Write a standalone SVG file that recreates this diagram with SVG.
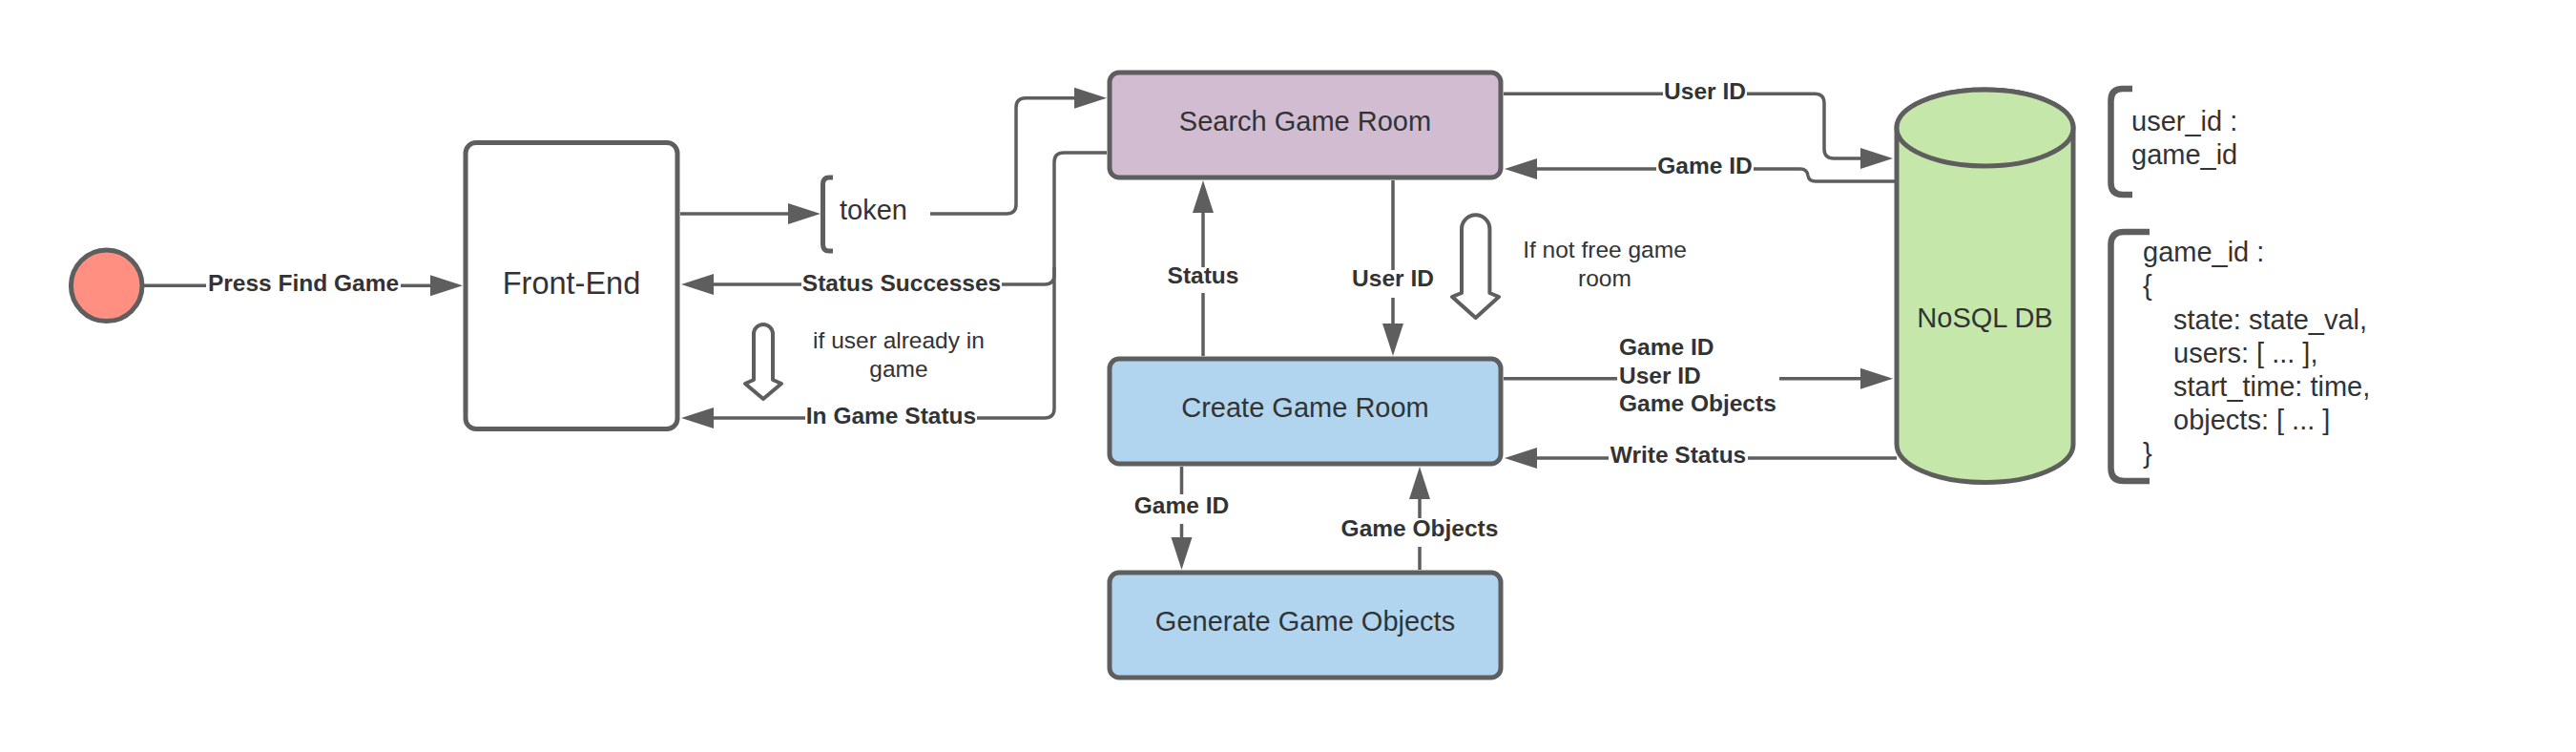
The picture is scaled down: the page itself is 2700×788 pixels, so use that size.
<svg xmlns="http://www.w3.org/2000/svg" width="2700" height="788" viewBox="0 0 2700 788">
<style>
.box{stroke:#5e5e5e;stroke-width:5;}
.ln{fill:none;stroke:#5e5e5e;stroke-width:3.5;}
.arr{marker-end:url(#ah);}
.brk{fill:none;stroke:#5e5e5e;stroke-width:6.5;}
.hol{fill:none;stroke:#5e5e5e;stroke-width:4;stroke-linejoin:round;}
.t{font-family:"Liberation Sans",Arial,sans-serif;fill:#333333;}
.big{font-size:29px;}
.fe{font-size:32.5px;}
.lbl{font-size:24.5px;font-weight:bold;}
.note{font-size:24.5px;}
.mid{text-anchor:middle;}
</style>
<defs>
<marker id="ah" markerUnits="userSpaceOnUse" markerWidth="36" markerHeight="24" viewBox="0 0 36 24" refX="1" refY="12" orient="auto">
<path d="M0,1 L34,12 L0,23 Z" fill="#5e5e5e"/>
</marker>
</defs>
<rect width="2700" height="788" fill="#ffffff"/>

<g id="connectors">
<path class="ln" d="M151,299.3 H216"/>
<path class="ln arr" d="M420,299.3 H452"/>
<path class="ln arr" d="M713,224 H827"/>
<path class="ln arr" d="M975,224 H1055 Q1065,224 1065,214 V112.7 Q1065,102.7 1075,102.7 H1127"/>
<path class="ln" d="M1160,160 H1115 Q1105,160 1105,170 V288 Q1105,298 1095,298 H1050"/>
<path class="ln arr" d="M840,298 H747"/>
<path class="ln" d="M1105,280 V428 Q1105,438 1095,438 H1024"/>
<path class="ln arr" d="M844,438 H747"/>
<path class="ln" d="M1261,373 V307"/>
<path class="ln arr" d="M1261,280 V222"/>
<path class="ln" d="M1460,189 V283"/>
<path class="ln arr" d="M1460,312 V340"/>
<path class="ln" d="M1238.5,489 V518"/>
<path class="ln arr" d="M1238.5,549 V564"/>
<path class="ln" d="M1488,597 V573"/>
<path class="ln arr" d="M1488,543 V522"/>
<path class="ln" d="M1576,98.3 H1743"/>
<path class="ln arr" d="M1831,98.3 H1902 Q1912,98.3 1912,108.3 V156 Q1912,166 1922,166 H1951"/>
<path class="ln" d="M1986,190 H1903 Q1896,190 1895,184 Q1894,177 1887,177 H1838"/>
<path class="ln arr" d="M1736,177 H1610"/>
<path class="ln" d="M1576,396.7 H1695"/>
<path class="ln arr" d="M1865,396.7 H1951"/>
<path class="ln" d="M1988,480 H1832"/>
<path class="ln arr" d="M1686,480 H1610"/>
<text class="t lbl mid" x="318" y="304.5">Press Find Game</text>
<text class="t lbl mid" x="945" y="304.5">Status Successes</text>
<text class="t lbl mid" x="934" y="443.5">In Game Status</text>
<text class="t lbl mid" x="1261" y="297">Status</text>
<text class="t lbl mid" x="1460" y="300">User ID</text>
<text class="t lbl mid" x="1238.5" y="538">Game ID</text>
<text class="t lbl mid" x="1488" y="562">Game Objects</text>
<text class="t lbl mid" x="1787" y="103.5">User ID</text>
<text class="t lbl mid" x="1787" y="182">Game ID</text>
<text class="t lbl" x="1697" y="372">Game ID</text>
<text class="t lbl" x="1697" y="402">User ID</text>
<text class="t lbl" x="1697" y="431">Game Objects</text>
<text class="t lbl mid" x="1759" y="485">Write Status</text>
</g>

<g id="start">
<circle class="box" cx="111.7" cy="299.3" r="37.3" fill="#ff8f80"/>
</g>

<g id="front-end">
<rect class="box" x="488" y="149.5" width="222" height="300" rx="11" fill="#ffffff"/>
<text class="t fe mid" x="599" y="308">Front-End</text>
</g>

<g id="token">
<path class="brk" d="M873,186 H869 Q862.5,186 862.5,193 V256 Q862.5,263 869,263 H873" style="stroke-width:5"/>
<text class="t big" x="880" y="230">token</text>
</g>

<g id="search-game-room">
<rect class="box" x="1163" y="76" width="410" height="110" rx="10" fill="#d1bcd2"/>
<text class="t big mid" x="1368" y="137">Search Game Room</text>
</g>

<g id="create-game-room">
<rect class="box" x="1163" y="376" width="410" height="110" rx="10" fill="#b1d5ef"/>
<text class="t big mid" x="1368" y="437">Create Game Room</text>
</g>

<g id="generate-game-objects">
<rect class="box" x="1163" y="600" width="410" height="110" rx="10" fill="#b1d5ef"/>
<text class="t big mid" x="1368" y="661">Generate Game Objects</text>
</g>

<g id="nosql-db">
<path class="box" d="M1988,134 V465.5 A92.5,40 0 0 0 2173,465.5 V134 A92.5,40 0 0 0 1988,134 Z" fill="#c6e7aa"/>
<ellipse class="box" cx="2080.5" cy="134" rx="92.5" ry="40" fill="#c6e7aa"/>
<text class="t big mid" x="2080.5" y="343">NoSQL DB</text>
</g>

<g id="note-user-already">
<path class="hol" d="M790,398 V350 A10,10 0 0 1 810,350 V398 L819,402 L800,418 L781,402 Z"/>
<text class="t note mid" x="942" y="365">if user already in</text>
<text class="t note mid" x="942" y="395">game</text>
</g>

<g id="note-not-free">
<path class="hol" d="M1532,307 V240 A14.7,14.7 0 0 1 1561.4,240 V307 L1571,311 L1546.7,333 L1522,311 Z"/>
<text class="t note mid" x="1682" y="270">If not free game</text>
<text class="t note mid" x="1682" y="300">room</text>
</g>

<g id="note-user-map">
<path class="brk" d="M2235,93 H2225 Q2212.5,93 2212.5,105.5 V191.5 Q2212.5,204 2225,204 H2235"/>
<text class="t big" x="2234" y="136.7">user_id :</text>
<text class="t big" x="2234" y="171.7">game_id</text>
</g>

<g id="note-game-map">
<path class="brk" d="M2253,243 H2226 Q2212.5,243 2212.5,256.5 V490.5 Q2212.5,504 2226,504 H2253"/>
<text class="t big" x="2246" y="274">game_id :</text>
<text class="t big" x="2246" y="309">{</text>
<text class="t big" x="2278" y="345">state: state_val,</text>
<text class="t big" x="2278" y="380">users: [ ... ],</text>
<text class="t big" x="2278" y="415">start_time: time,</text>
<text class="t big" x="2278" y="450">objects: [ ... ]</text>
<text class="t big" x="2246" y="485">}</text>
</g>
</svg>
